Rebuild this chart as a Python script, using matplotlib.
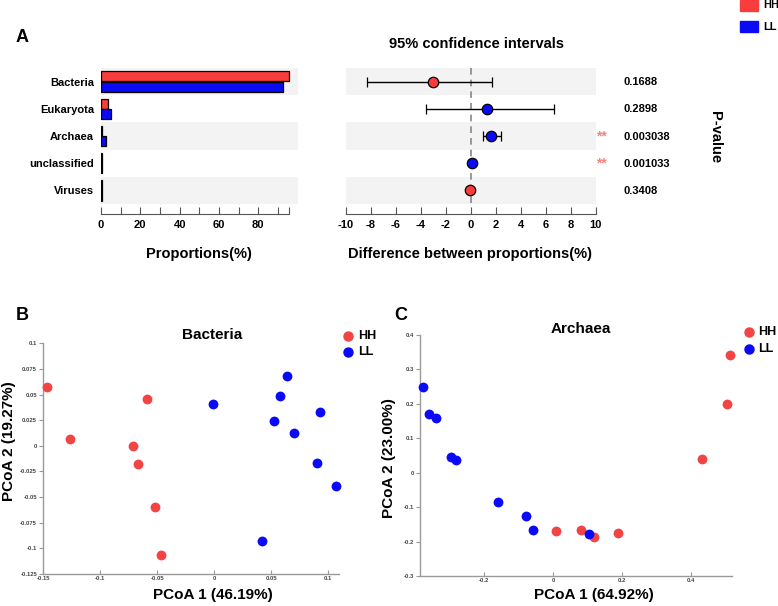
import matplotlib
matplotlib.use("Agg")
import matplotlib.pyplot as plt
from matplotlib.patches import Rectangle
from matplotlib.lines import Line2D

plt.rcParams['font.family'] = ['Liberation Sans', 'DejaVu Sans']
plt.rcParams['font.weight'] = 'bold'

RED = '#f93c3c'
BLUE = '#0a0af5'
BAND = '#f3f3f3'

# ---- panel A data ----
taxa = ['Bacteria', 'Eukaryota', 'Archaea', 'unclassified', 'Viruses']
prop_hh = [95.7, 3.4, 0.5, 0.3, 0.3]
prop_ll = [92.7, 4.9, 2.5, 0.3, 0.3]
diff = [-3.04, 1.3, 1.65, 0.08, -0.05]
ci_low = [-8.32, -3.57, 0.96, 0.0, -0.12]
ci_high = [1.7, 6.67, 2.45, 0.16, 0.05]
diff_group = ['HH', 'LL', 'LL', 'LL', 'HH']
pvalues = ['0.1688', '0.2898', '0.003038', '0.001033', '0.3408']
signif = ['', '', '**', '**', '']

# ---- panel B data (Bacteria PCoA) ----
bac_hh_x = [-0.147, -0.1266, -0.0716, -0.0669, -0.0593, -0.0517, -0.0468]
bac_hh_y = [0.0572, 0.0065, 0.0, -0.0182, 0.0455, -0.0597, -0.1068]
bac_ll_x = [-0.0014, 0.0635, 0.0579, 0.0925, 0.0521, 0.0702, 0.0901, 0.1065, 0.0421]
bac_ll_y = [0.0406, 0.0682, 0.049, 0.0334, 0.0243, 0.0123, -0.0172, -0.039, -0.0925]
bac_xticks = [-0.15, -0.1, -0.05, 0, 0.05, 0.1]
bac_yticks = [0.1, 0.075, 0.05, 0.025, 0, -0.025, -0.05, -0.075, -0.1, -0.125]

# ---- panel C data (Archaea PCoA) ----
arc_hh_x = [0.0078, 0.081, 0.119, 0.187, 0.431, 0.503, 0.512]
arc_hh_y = [-0.169, -0.166, -0.186, -0.175, 0.040, 0.199, 0.341]
arc_ll_x = [-0.376, -0.359, -0.341, -0.297, -0.281, -0.160, -0.080, -0.059, 0.104]
arc_ll_y = [0.2485, 0.169, 0.159, 0.0456, 0.0379, -0.0864, -0.126, -0.166, -0.177]
arc_xticks = [-0.2, 0, 0.2, 0.4]
arc_yticks = [-0.3, -0.2, -0.1, 0, 0.1, 0.2, 0.3, 0.4]

W, H = 778, 606
fig = plt.figure(figsize=(W / 100, H / 100), dpi=100)


def px_axes(x0, y0, x1, y1):
    # axes from pixel box (top-left origin)
    return fig.add_axes([x0 / W, 1 - y1 / H, (x1 - x0) / W, (y1 - y0) / H])


def ftext(x, y, s, **kw):
    fig.text(x / W, 1 - y / H, s, **kw)


def fmt(v):
    s = ('%.3f' % v).rstrip('0').rstrip('.')
    return '0' if s in ('-0', '0') else s


n = len(taxa)
rows = list(range(n))

# ---------- A: proportions ----------
axl = px_axes(101, 68, 298, 214)
axl.set_xlim(0, 100.2)
axl.set_ylim(4.87, -0.5)
for i in rows:
    if i % 2 == 0:
        axl.add_patch(Rectangle((0, i - 0.5), 100.2, 1, color=BAND, zorder=0, lw=0))
axl.barh([r - 0.19 for r in rows], prop_hh, height=0.37, color=RED, edgecolor='black', lw=0.9, zorder=2)
axl.barh([r + 0.19 for r in rows], prop_ll, height=0.37, color=BLUE, edgecolor='black', lw=0.9, zorder=2)
axl.set_yticks(rows)
axl.set_yticklabels(taxa, fontsize=8, fontweight='bold')
axl.tick_params(axis='y', length=0, pad=5)
axl.set_xticks(list(range(0, 100, 10)) + [95.7])
axl.set_xticklabels(['0', '', '20', '', '40', '', '60', '', '80', '', ''], fontsize=8, fontweight='bold')
axl.tick_params(axis='x', direction='in', length=5, color='#555555', pad=4)
for s in ['top', 'right', 'left']:
    axl.spines[s].set_visible(False)
axl.spines['bottom'].set_bounds(0, 95.7)
axl.spines['bottom'].set_color('#555555')
ftext(199, 254, 'Proportions(%)', fontsize=10.5, fontweight='bold', ha='center', va='center')

# ---------- A: differences ----------
axr = px_axes(345.7, 68, 595.7, 214)
axr.set_xlim(-10, 10)
axr.set_ylim(4.87, -0.5)
for i in rows:
    if i % 2 == 0:
        axr.add_patch(Rectangle((-10, i - 0.5), 20, 1, color=BAND, zorder=0, lw=0))
axr.plot([0, 0], [-0.5, 4.5], ls=(0, (4, 3)), color='#888888', lw=1.2, zorder=1)
for i in rows:
    c = RED if diff_group[i] == 'HH' else BLUE
    axr.errorbar(diff[i], i, xerr=[[diff[i] - ci_low[i]], [ci_high[i] - diff[i]]],
                 fmt='o', color='black', ecolor='black', elinewidth=1, capsize=3.6,
                 markersize=7.5, markerfacecolor=c, markeredgecolor='black', markeredgewidth=0.9, zorder=3)
axr.set_yticks([])
axr.set_xticks(range(-10, 11, 2))
axr.set_xticklabels([str(v) for v in range(-10, 11, 2)], fontsize=8, fontweight='bold')
axr.tick_params(axis='x', direction='in', length=5, color='#555555', pad=4)
for s in ['top', 'right', 'left']:
    axr.spines[s].set_visible(False)
axr.spines['bottom'].set_color('#555555')
ftext(476.5, 44, '95% confidence intervals', fontsize=10.5, fontweight='bold', ha='center', va='center')
ftext(470, 254, 'Difference between proportions(%)', fontsize=10.5, fontweight='bold', ha='center', va='center')
row_y = [82, 109, 137, 164, 191]
for i in rows:
    ftext(624, row_y[i], pvalues[i], fontsize=8, fontweight='bold', ha='left', va='center')
    if signif[i]:
        ftext(601.5, row_y[i] - 1, signif[i], fontsize=10, fontweight='bold', color='#f08585',
              ha='center', va='center')
ftext(715, 137.5, 'P-value', fontsize=10.5, fontweight='bold', rotation=-90, ha='center', va='center')

# legend for A
fig.patches.append(Rectangle((740 / W, 1 - 11 / H), 17.5 / W, 11 / H, color=RED, transform=fig.transFigure))
fig.patches.append(Rectangle((740 / W, 1 - 32 / H), 17.5 / W, 11 / H, color=BLUE, transform=fig.transFigure))
ftext(763, 5, 'HH', fontsize=8, fontweight='bold', ha='left', va='center')
ftext(763, 26.5, 'LL', fontsize=8, fontweight='bold', ha='left', va='center')

ftext(22, 38, 'A', fontsize=13, fontweight='bold', ha='center', va='center')
ftext(22, 316, 'B', fontsize=13, fontweight='bold', ha='center', va='center')
ftext(401, 316, 'C', fontsize=13, fontweight='bold', ha='center', va='center')


def pcoa_axes(ax, hx, hy, lx, ly, xt, yt, xlim, ylim):
    ax.scatter(hx, hy, s=50, color='#f24444', lw=0, zorder=3, clip_on=False)
    ax.scatter(lx, ly, s=50, color=BLUE, lw=0, zorder=3, clip_on=False)
    ax.set_xlim(*xlim)
    ax.set_ylim(*ylim)
    ax.set_xticks(xt)
    ax.set_xticklabels([fmt(v) for v in xt])
    ax.set_yticks(yt)
    ax.set_yticklabels([fmt(v) for v in yt])
    for lab in ax.get_xticklabels() + ax.get_yticklabels():
        lab.set_fontsize(4.2)
        lab.set_fontweight('bold')
        lab.set_color('#444444')
    ax.tick_params(axis='x', direction='in', length=3, color='#999999', pad=1.5)
    ax.tick_params(axis='y', direction='out', length=3, color='#999999', pad=1.5)
    for s in ['top', 'right']:
        ax.spines[s].set_visible(False)
    for s in ['left', 'bottom']:
        ax.spines[s].set_color('#999999')
        ax.spines[s].set_linewidth(1)


# ---------- B ----------
axb = px_axes(43.3, 343.3, 339, 574)
pcoa_axes(axb, bac_hh_x, bac_hh_y, bac_ll_x, bac_ll_y, bac_xticks, bac_yticks,
          (-0.15, 0.1095), (-0.125, 0.1))
ftext(212.5, 335, 'Bacteria', fontsize=11, fontweight='bold', ha='center', va='center')
ftext(213, 595, 'PCoA 1 (46.19%)', fontsize=11, fontweight='bold', ha='center', va='center')
ftext(9, 441, 'PCoA 2 (19.27%)', fontsize=11, fontweight='bold', rotation=90, ha='center', va='center')
fig.add_artist(Line2D([348.3 / W], [1 - 335.7 / H], marker='o', ms=6.5, color='#f24444', lw=0))
fig.add_artist(Line2D([348.3 / W], [1 - 351.7 / H], marker='o', ms=6.5, color=BLUE, lw=0))
ftext(358, 335.7, 'HH', fontsize=9, fontweight='bold', ha='left', va='center')
ftext(358, 351.7, 'LL', fontsize=9, fontweight='bold', ha='left', va='center')

# ---------- C ----------
axc = px_axes(420, 334.7, 732.3, 576)
pcoa_axes(axc, arc_hh_x, arc_hh_y, arc_ll_x, arc_ll_y, arc_xticks, arc_yticks,
          (-0.386, 0.519), (-0.3, 0.4))
ftext(581, 329, 'Archaea', fontsize=11, fontweight='bold', ha='center', va='center')
ftext(594, 595, 'PCoA 1 (64.92%)', fontsize=11, fontweight='bold', ha='center', va='center')
ftext(389, 458, 'PCoA 2 (23.00%)', fontsize=11, fontweight='bold', rotation=90, ha='center', va='center')
fig.add_artist(Line2D([749 / W], [1 - 331.7 / H], marker='o', ms=6.5, color='#f24444', lw=0))
fig.add_artist(Line2D([749 / W], [1 - 349 / H], marker='o', ms=6.5, color=BLUE, lw=0))
ftext(758, 331.7, 'HH', fontsize=9, fontweight='bold', ha='left', va='center')
ftext(758, 349, 'LL', fontsize=9, fontweight='bold', ha='left', va='center')

fig.savefig('out.png', dpi=100)
